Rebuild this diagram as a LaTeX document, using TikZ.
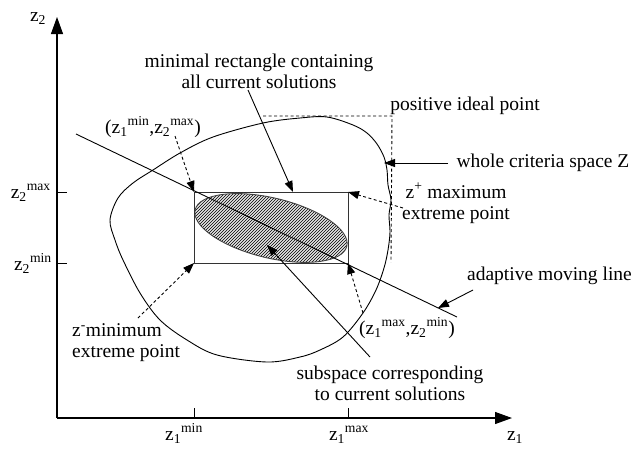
\documentclass[tikz,border=0pt]{standalone}
\usepackage{fontspec}
\setmainfont{Liberation Serif}
\usetikzlibrary{arrows.meta,patterns}
\tikzset{
  lbl/.style={inner sep=0pt,font=\fontsize{19.5}{21}\selectfont},
  conn/.style={line width=0.9pt,-{Triangle[length=11pt,width=8pt]}},
  dconn/.style={conn,dash pattern=on 3pt off 2.5pt},
  axisline/.style={line width=1.1pt,-{Triangle[length=17pt,width=12pt]}},
  guide/.style={line width=0.9pt,dash pattern=on 3pt off 2.5pt},
  plain/.style={line width=0.9pt}
}
\begin{document}
\begin{tikzpicture}[x=1pt,y=-1pt]
\useasboundingbox (0,0) rectangle (634,451);
% axes
\coordinate (O) at (57,418);
\coordinate (Ytip) at (57,17);
\coordinate (Xtip) at (512,418);
\draw[axisline] (O) -- (Ytip);
\draw[axisline] (O) -- (Xtip);
\coordinate (t2max) at (57,192);
\coordinate (t2min) at (57,263);
\coordinate (t1min) at (194,418);
\coordinate (t1max) at (348,418);
\draw[plain] (t2max) -- ++(10,0);
\draw[plain] (t2min) -- ++(10,0);
\draw[plain] (t1min) -- ++(0,-10);
\draw[plain] (t1max) -- ++(0,-10);
\node[lbl,anchor=base] (z2) at (38,21) {z\textsubscript{2}};
\node[lbl,anchor=base] (z1) at (515,440) {z\textsubscript{1}};
\node[lbl,anchor=base east] (lz2max) at (51,198) {z\textsubscript{2}\textsuperscript{max}};
\node[lbl,anchor=base east] (lz2min) at (52,270) {z\textsubscript{2}\textsuperscript{min}};
\node[lbl,anchor=base] (lz1min) at (184,440) {z\textsubscript{1}\textsuperscript{min}};
\node[lbl,anchor=base] (lz1max) at (349,440) {z\textsubscript{1}\textsuperscript{max}};
% whole criteria space
\draw[plain] plot[smooth cycle,tension=0.55] coordinates {
 (118,198) (133,183) (153,170) (180,153) (213,137) (263,123) (300,118) (327,117)
 (353,125) (367,133) (377,144) (384,157) (387,170) (388,185) (391,200) (389,215)
 (390,232) (388,250) (384,268) (376,290) (363,313) (343,337) (320,350) (300,357)
 (267,362) (217,355) (187,340) (160,320) (140,293) (123,260) (115,240) (110,220)};
% positive ideal point guides
\coordinate (PIs) at (263,116);
\coordinate (PI) at (392,116);
\coordinate (PIe) at (391,262);
\draw[guide] (PIs) -- (PI) -- (PIe);
% ellipse
\coordinate (E) at (271,228);
\fill[gray!20,rotate around={-13.5:(E)}] (E) ellipse[x radius=78,y radius=30];
\fill[pattern=north east lines,rotate around={-13.5:(E)}] (E) ellipse[x radius=78,y radius=30];
\draw[black!75,line width=0.9pt,rotate around={-13.5:(E)}] (E) ellipse[x radius=78,y radius=30];
% rectangle
\coordinate (TL) at (194,192);
\coordinate (TR) at (348,192);
\coordinate (BL) at (194,263);
\coordinate (BR) at (348,263);
\draw[black!80,line width=1pt] (TL) -- (TR) -- (BR) -- (BL) -- cycle;
% adaptive moving line
\coordinate (L1) at (76,134);
\coordinate (L2) at (457,317);
\draw[plain] (L1) -- (L2);
% labels
\node[lbl,align=center] (mr) at (259,71) {minimal rectangle containing\\all current solutions};
\node[lbl,anchor=base] (pmin) at (153,133) {(z\textsubscript{1}\textsuperscript{min},z\textsubscript{2}\textsuperscript{max})};
\node[lbl,anchor=base] (pip) at (465,110) {positive ideal point};
\node[lbl,anchor=base] (wcs) at (543,167) {whole criteria space Z};
\node[lbl,align=center] (zmax) at (456,203) {z\textsuperscript{+} maximum\\extreme point};
\node[lbl,anchor=base east] (aml) at (632,280) {adaptive moving line};
\node[lbl,anchor=base] (pmax) at (407,334) {(z\textsubscript{1}\textsuperscript{max},z\textsubscript{2}\textsuperscript{min})};
\node[lbl,align=center] (sub) at (390,383) {subspace corresponding\\to current solutions};
\node[lbl,align=left,anchor=west] (zmin) at (72,343) {z\textsuperscript{-}minimum\\extreme point};
% connectors
\coordinate (a1s) at (175,136);
\draw[dconn] (a1s) -- (TL);
\coordinate (a2s) at (248,90);
\coordinate (a2e) at (293,192);
\draw[conn] (a2s) -- (a2e);
\coordinate (a3s) at (448,163);
\coordinate (a3e) at (384,163);
\draw[conn] (a3s) -- (a3e);
\coordinate (a4s) at (403,208);
\draw[dconn] (a4s) -- (TR);
\coordinate (a5s) at (473,290);
\coordinate (a5e) at (438,308);
\draw[conn] (a5s) -- (a5e);
\coordinate (a6s) at (363,313);
\draw[dconn] (a6s) -- (BR);
\coordinate (a7s) at (370,357);
\coordinate (a7e) at (267,245);
\draw[conn] (a7s) -- (a7e);
\coordinate (a8s) at (138,318);
\draw[dconn] (a8s) -- (BL);
\end{tikzpicture}
\end{document}
